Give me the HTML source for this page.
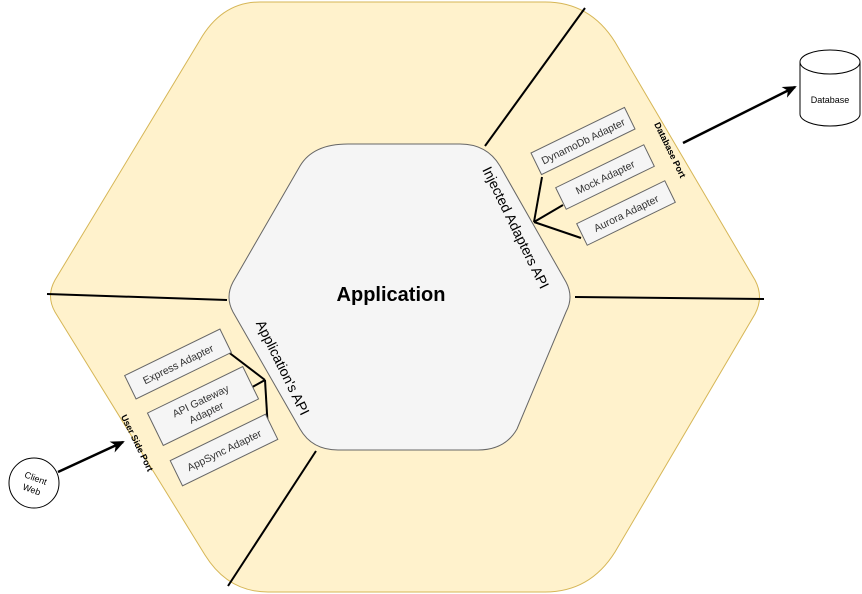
<!DOCTYPE html>
<html><head><meta charset="utf-8"><style>html,body{margin:0;padding:0;background:#fff}svg{display:block}text{font-family:"Liberation Sans",sans-serif}</style></head>
<body>
<svg width="862" height="594" viewBox="0 0 862 594" xmlns="http://www.w3.org/2000/svg">
<defs><marker id="ar" markerWidth="14" markerHeight="12" refX="12" refY="6" orient="auto" markerUnits="userSpaceOnUse"><path d="M0,0 L14,6 L0,12 L4,6 Z" fill="#000"/></marker></defs>
<path d="M 260,2 L 545,2 Q 590,2 615,42 L 755,280 Q 764,297 755,314 L 615,552 Q 590,592 545,592 L 268,592 Q 228,592 205,555 L 55,312 Q 46,296 55,280 L 200,40 Q 222,2 260,2 Z" fill="#fff2cc" stroke="#d6b656" stroke-width="1"/>
<line x1="485" y1="146" x2="585" y2="8" stroke="#000" stroke-width="2"/>
<line x1="575" y1="297" x2="764" y2="299" stroke="#000" stroke-width="2"/>
<line x1="47" y1="294" x2="227" y2="300" stroke="#000" stroke-width="2"/>
<line x1="316" y1="451" x2="228" y2="586" stroke="#000" stroke-width="2"/>
<path d="M 348,144 L 460,144 Q 487,144 500,166 L 566,282 Q 574,297 566,312 L 517,429 Q 505,450 478,450 L 338,450 Q 312,450 300,429 L 233,312 Q 225,297 233,282 L 300,166 Q 313,144 348,144 Z" fill="#f5f5f5" stroke="#666" stroke-width="1"/>
<text x="391" y="301" font-size="20" font-weight="bold" text-anchor="middle">Application</text>
<text transform="translate(515,228) rotate(64)" font-size="14" text-anchor="middle" dy="4">Injected Adapters API</text>
<text transform="translate(282,368) rotate(64)" font-size="14" text-anchor="middle" dy="4">Application's API</text>
<text transform="translate(670,150) rotate(64)" font-size="9" font-weight="bold" text-anchor="middle" dy="3">Database Port</text>
<text transform="translate(137,443) rotate(64)" font-size="9" font-weight="bold" text-anchor="middle" dy="3">User Side Port</text>
<g stroke="#000" stroke-width="2"><line x1="534" y1="222" x2="542" y2="177"/><line x1="534" y1="222" x2="563" y2="205"/><line x1="534" y1="222" x2="581" y2="238"/>
<line x1="265" y1="380" x2="223" y2="348"/><line x1="265" y1="380" x2="247" y2="390"/><line x1="265" y1="380" x2="268" y2="430"/></g>
<g fill="#f5f5f5" stroke="#666" stroke-width="1" font-size="10.5">
<g transform="translate(583,141) rotate(-26)"><rect x="-52" y="-12" width="104" height="24"/><text x="0" y="4" text-anchor="middle" stroke="none" fill="#333">DynamoDb  Adapter</text></g>
<g transform="translate(605,177) rotate(-26)"><rect x="-49" y="-12" width="98" height="24"/><text x="0" y="4" text-anchor="middle" stroke="none" fill="#333">Mock  Adapter</text></g>
<g transform="translate(626,213) rotate(-26)"><rect x="-49" y="-12" width="98" height="24"/><text x="0" y="4" text-anchor="middle" stroke="none" fill="#333">Aurora  Adapter</text></g>
<g transform="translate(178,364) rotate(-26)"><rect x="-53" y="-13" width="106" height="26"/><text x="0" y="4" text-anchor="middle" stroke="none" fill="#333">Express Adapter</text></g>
<g transform="translate(203,406) rotate(-26)"><rect x="-53" y="-18" width="106" height="36"/><text x="0" y="-2" text-anchor="middle" stroke="none" fill="#333">API Gateway</text><text x="0" y="11" text-anchor="middle" stroke="none" fill="#333">Adapter</text></g>
<g transform="translate(224,450) rotate(-26)"><rect x="-53" y="-14" width="106" height="28"/><text x="0" y="4" text-anchor="middle" stroke="none" fill="#333">AppSync Adapter</text></g>
</g>
<line x1="683" y1="143" x2="795" y2="87" stroke="#000" stroke-width="2.5" marker-end="url(#ar)"/>
<line x1="58" y1="472" x2="123" y2="442" stroke="#000" stroke-width="2.5" marker-end="url(#ar)"/>
<path d="M800,62 L800,114 A30,12 0 0 0 860,114 L860,62" fill="#fff" stroke="#000"/>
<ellipse cx="830" cy="62" rx="30" ry="12" fill="#fff" stroke="#000"/>
<text x="830" y="103" font-size="9" text-anchor="middle">Database</text>
<circle cx="34" cy="483" r="25" fill="#fff" stroke="#000"/>
<g transform="translate(34,483) rotate(20)" font-size="9" text-anchor="middle"><text y="-2">Client</text><text y="10">Web</text></g>
</svg>
</body></html>
